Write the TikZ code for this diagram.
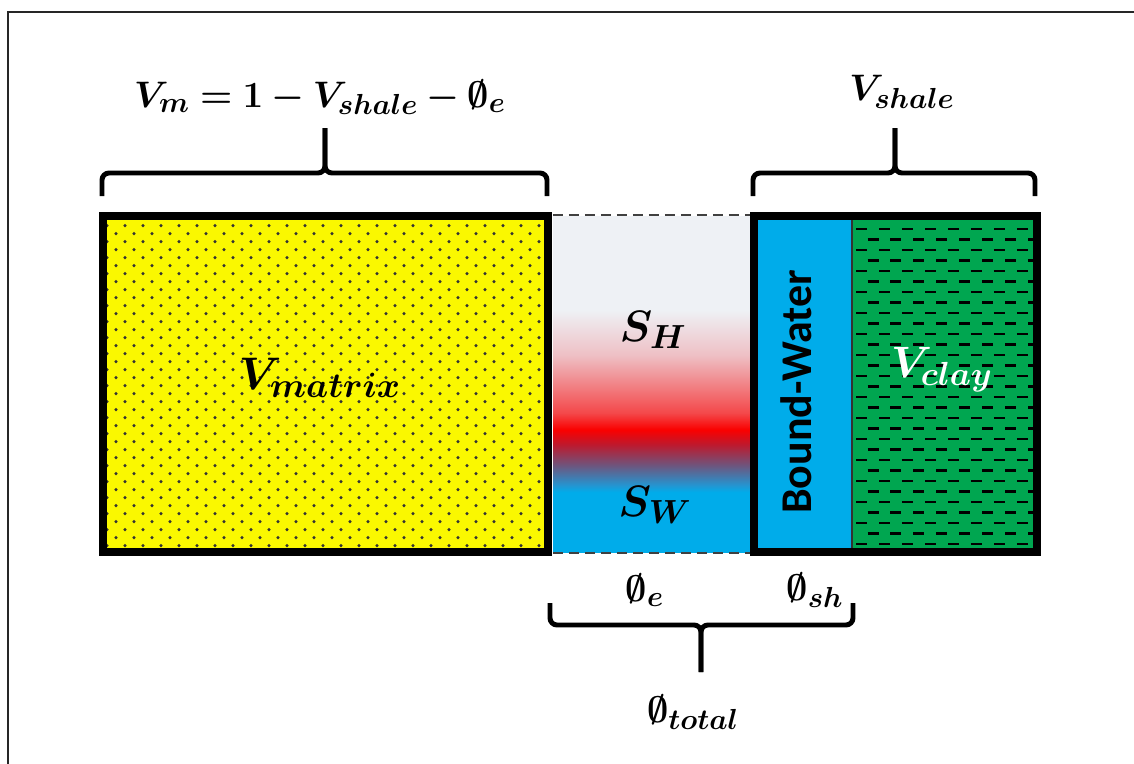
\RequirePackage{fix-cm}
\documentclass[tikz,border=0pt]{standalone}
\usepackage{amsmath,amssymb,bm}
\usepackage{fontspec}
\newfontfamily\carlito{Carlito}
\usepackage{tikz}
\usetikzlibrary{calc}
\DeclareMathSizes{21}{21}{16.5}{13}
\DeclareMathSizes{25}{25}{19}{15}
\DeclareMathSizes{26}{26}{20}{16}

\definecolor{matyel}{RGB}{250,248,0}
\definecolor{watblue}{RGB}{0,172,234}
\definecolor{claygrn}{RGB}{0,166,80}
\definecolor{hcgrey}{RGB}{238,241,245}
\definecolor{hcpale}{RGB}{238,192,197}
\definecolor{hcpink}{RGB}{244,72,74}
\definecolor{hcred}{RGB}{250,0,0}
\definecolor{hcdark}{RGB}{190,25,45}
\definecolor{hcmix}{RGB}{110,85,125}
\definecolor{hcmix2}{RGB}{35,150,210}

% pore fluid: water at the bottom, hydrocarbon on top
\pgfdeclareverticalshading{porefluid}{100bp}{color(0bp)=(watblue); color(33.9bp)=(watblue); color(34.9bp)=(hcmix2); color(37.9bp)=(hcmix); color(41bp)=(hcdark); color(43.2bp)=(hcred); color(45.7bp)=(hcpink); color(54.3bp)=(hcpale); color(61bp)=(hcgrey); color(100bp)=(hcgrey)}

\tikzset{
  thickbox/.style={line width=4.4pt},
  brace/.style={line width=2.8pt, rounded corners=0.14cm},
  lbl/.style={inner sep=0pt, font=\fontsize{25}{29}\selectfont},
  toplbl/.style={inner sep=0pt, font=\fontsize{21}{25}\selectfont},
}

\begin{document}
\begin{tikzpicture}[x=0.02cm,y=-0.02cm]
    \useasboundingbox (0,0) rectangle (1134,764);
    \begin{scope}
        \clip (0,0) rectangle (1134,764);
        \draw[line width=1pt, black!85] (8,800) -- (8,12) -- (1160,12);
    \end{scope}

    % matrix
    \coordinate (mtl) at (103,216);
    \coordinate (mbr) at (548,552);
    \fill[matyel] (mtl) rectangle (mbr);
    \begin{scope}
        \clip (mtl) rectangle (mbr);
        \foreach \j in {0,...,41} {
            \pgfmathsetmacro{\yy}{225.6+8*\j}
            \pgfmathtruncatemacro{\xo}{125-9*mod(\j,2)}
            \foreach \i in {-1,...,24}
                \fill[black!80] (\xo+18*\i,\yy) circle (0.95pt);
        }
    \end{scope}
    \draw[thickbox] (mtl) rectangle (mbr);

    % pore space
    \shade[shading=porefluid] (553,216) rectangle (750,552);
    \draw[line width=1.1pt, black!75, dash pattern=on 0.2cm off 0.12cm] (553,215) -- (750,215) (553,553) -- (750,553);

    % shale: bound water + clay
    \fill[watblue] (754,216) rectangle (852,552);
    \fill[claygrn] (852,216) rectangle (1037,552);
    \begin{scope}
        \clip (852,216) rectangle (1037,552);
        \foreach \j in {0,...,31} {
            \pgfmathsetmacro{\yy}{229+10.5*\j}
            \pgfmathsetmacro{\ph}{0.23*mod(\j,2)}
            \draw[line width=1.2pt, dash pattern=on 0.22cm off 0.24cm, dash phase=\ph cm] (856,\yy) -- (1040,\yy);
        }
    \end{scope}
    \draw[line width=1.2pt, black!80] (852,216) -- (852,552);
    \draw[thickbox] (754,216) rectangle (1037,552);

    % labels inside
    \node[lbl, font=\fontsize{26}{30}\selectfont] (vmatrix) at (320,378) {$\bm{V_{matrix}}$};
    \node[lbl] (sh) at (653,330) {$\bm{S_H}$};
    \node[lbl] (sw) at (655,505) {$\bm{S_W}$};
    \node[rotate=90, inner sep=0pt, font=\carlito\bfseries\fontsize{25}{29}\selectfont] (bw) at (796,392) {Bound-Water};
    \node[lbl, text=white] (vclay) at (942,370) {$\bm{V_{clay}}$};

    % braces
    \node[toplbl] (vm) at (320,97) {$\bm{V_m = 1 - V_{shale} - \emptyset_e}$};
    \coordinate (vmtip) at (325,128);
    \draw[brace] (102,196) -- (102,173) -- (325,173) -- (vmtip);
    \draw[brace] (547,196) -- (547,173) -- (325,173) -- (vmtip);

    \node[toplbl] (vsh) at (902,92) {$\bm{V_{shale}}$};
    \coordinate (vshtip) at (895,128);
    \draw[brace] (753,196) -- (753,173) -- (895,173) -- (vshtip);
    \draw[brace] (1035,196) -- (1035,173) -- (895,173) -- (vshtip);

    \node[toplbl] (phie) at (645,590) {$\bm{\emptyset_e}$};
    \node[toplbl] (phish) at (815,590) {$\bm{\emptyset_{sh}}$};
    \node[toplbl] (phitot) at (693,712) {$\bm{\emptyset_{total}}$};
    \coordinate (phitip) at (701,672);
    \draw[brace] (550,603) -- (550,625) -- (701,625) -- (phitip);
    \draw[brace] (853,603) -- (853,625) -- (701,625) -- (phitip);
\end{tikzpicture}
\end{document}
